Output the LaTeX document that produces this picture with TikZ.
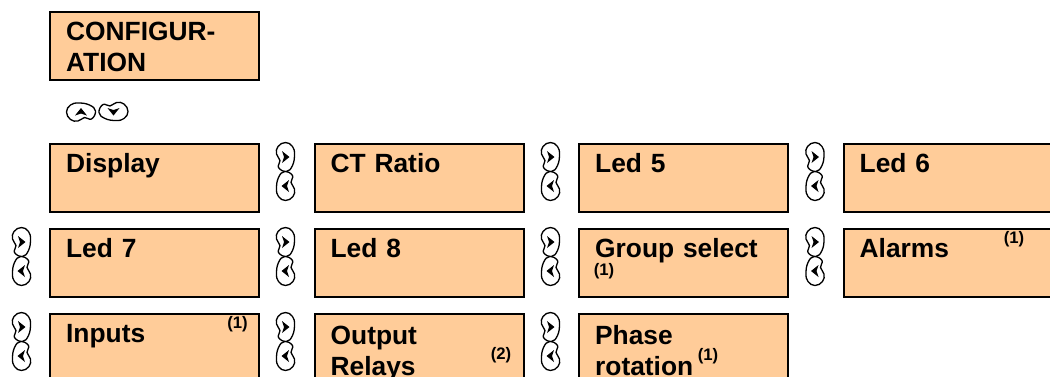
\documentclass[tikz,border=0pt]{standalone}
\usepackage{fontspec}
\setmainfont{Liberation Sans}
\definecolor{menufill}{RGB}{255,204,153}
\tikzset{
  menubox/.style={draw, line width=1.3pt, fill=menufill, anchor=north west,
    inner xsep=0.32cm, inner ysep=0pt, text width=3.54cm, align=left,
    text height=0.56cm, text depth=0.80cm,
    font=\fontsize{15}{17.6}\selectfont\bfseries},
  lowtext/.style={text height=0.60cm, text depth=0.76cm},
  note/.style={font=\fontsize{9.5}{11}\selectfont\bfseries, inner sep=0pt},
  navkey/.pic={
    \draw[line width=0.75pt] plot[smooth cycle, tension=0.75] coordinates
      {(0,0.29) (0.14,0.21) (0.18,0.05) (0.14,-0.17) (0.02,-0.29)
       (-0.14,-0.21) (-0.11,-0.07) (-0.18,0.06) (-0.15,0.21)};
    \fill (-0.07,0.12) -- (0.08,0) -- (-0.07,-0.12) -- (-0.03,0) -- cycle;
  }
}
\begin{document}
\begin{tikzpicture}
    \useasboundingbox (0,0) rectangle (21,7.52);
    \clip (0,0) rectangle (21,7.52);
    % top of the menu
    \node[menubox] (config) at (0.98,7.30) {CONFIGUR-\\ATION};
    \pic[rotate=90] at (1.62,5.28) {navkey};
    \pic[rotate=-90] at (2.27,5.29) {navkey};
    % first row
    \node[menubox] (disp) at (0.98,4.66) {Display};
    \node[menubox] (ctratio) at (6.27,4.66) {CT Ratio};
    \node[menubox] (ledfive) at (11.56,4.66) {Led 5};
    \node[menubox] (ledsix) at (16.85,4.66) {Led 6};
    % second row
    \node[menubox] (ledseven) at (0.98,2.96) {Led 7};
    \node[menubox] (ledeight) at (6.27,2.96) {Led 8};
    \node[menubox] (grpsel) at (11.56,2.96) {Group select};
    \node[menubox] (alarms) at (16.85,2.96) {Alarms};
    % third row
    \node[menubox] (inputs) at (0.98,1.26) {Inputs};
    \node[menubox, lowtext] (outrel) at (6.27,1.26) {Output\\Relays};
    \node[menubox, lowtext] (phrot) at (11.56,1.26) {Phase\\rotation};
    % notes
    \node[note] (ngrp) at ([shift={(0.52,-0.87)}]grpsel.north west) {(1)};
    \node[note] (nalm) at ([shift={(3.43,-0.22)}]alarms.north west) {(1)};
    \node[note] (ninp) at ([shift={(3.77,-0.22)}]inputs.north west) {(1)};
    \node[note] (nout) at ([shift={(3.75,-0.84)}]outrel.north west) {(2)};
    \node[note] (nphr) at ([shift={(2.60,-0.87)}]phrot.north west) {(1)};
    % left / right keys
    \foreach \x/\y in {5.71/4.66, 11.01/4.66, 16.30/4.66,
                       0.43/2.96, 5.71/2.96, 11.01/2.96, 16.30/2.96,
                       0.43/1.26, 5.71/1.26, 11.01/1.26} {
        \pic at (\x,\y-0.28) {navkey};
        \pic[rotate=180] at (\x,\y-0.86) {navkey};
    }
\end{tikzpicture}
\end{document}
